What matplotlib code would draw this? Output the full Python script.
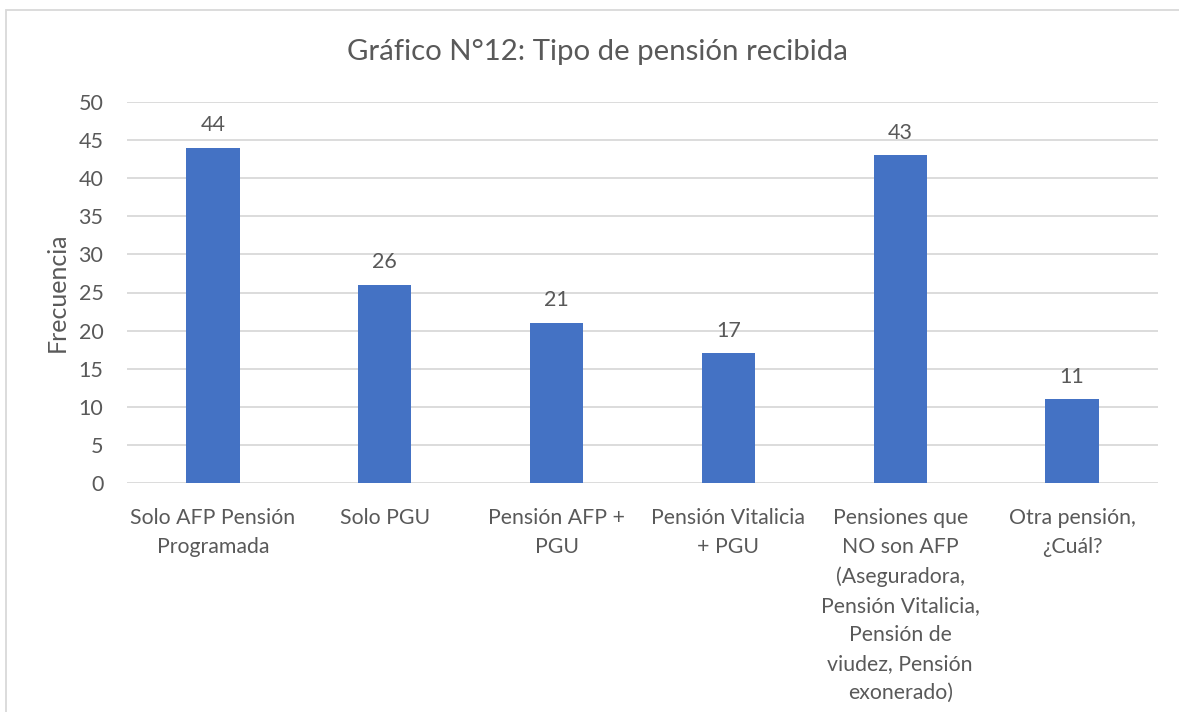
import matplotlib
matplotlib.use("Agg")
import matplotlib.pyplot as plt
from matplotlib.patches import Rectangle

categories = [
    "Solo AFP Pensión\nProgramada",
    "Solo PGU",
    "Pensión AFP +\nPGU",
    "Pensión Vitalicia\n+ PGU",
    "Pensiones que\nNO son AFP\n(Aseguradora,\nPensión Vitalicia,\nPensión de\nviudez, Pensión\nexonerado)",
    "Otra pensión,\n¿Cuál?",
]
values = [44, 26, 21, 17, 43, 11]
yticks = [0, 5, 10, 15, 20, 25, 30, 35, 40, 45, 50]
title = "Gráfico N°12: Tipo de pensión recibida"
ylabel = "Frecuencia"

TXT = "#595959"
plt.rcParams['font.family'] = ['Lato', 'DejaVu Sans']

W, H = 1179, 712
fig = plt.figure(figsize=(W / 100, H / 100), dpi=100)
ax = fig.add_axes([127 / W, 1 - 483 / H, (1158 - 127) / W, (483 - 102) / H])

x = list(range(len(values)))
ax.bar(x, values, width=0.31, color="#4472C4", zorder=3)
ax.set_xlim(-0.5, len(values) - 0.5)
ax.set_ylim(0, 50)
ax.set_yticks(yticks)
ax.set_yticklabels([str(t) for t in yticks], fontsize=15.5, color=TXT)
ax.set_xticks(x)
ax.set_xticklabels(categories, fontsize=15.3, color=TXT, linespacing=1.56)
ax.tick_params(axis='both', length=0)
ax.tick_params(axis='x', pad=18)
ax.tick_params(axis='y', pad=17)
ax.grid(axis='y', color="#d9d9d9", linewidth=1.3, zorder=0)
for s in ax.spines.values():
    s.set_visible(False)

for xi, v in zip(x, values):
    ax.annotate(str(v), (xi, v), xytext=(0, 9), textcoords='offset points',
                ha='center', va='bottom', fontsize=15.5, color=TXT)

ax.set_ylabel(ylabel, fontsize=18, color=TXT, labelpad=7)
fig.text(597 / W, 1 - 52 / H, title, ha='center', va='center', fontsize=21.2, color=TXT)

fig.patches.append(Rectangle((6 / W, -0.1), 1.2, 1 - 10 / H + 0.1, transform=fig.transFigure,
                             fill=False, edgecolor="#d9d9d9", linewidth=1.3))

fig.savefig("out.png", dpi=100)
